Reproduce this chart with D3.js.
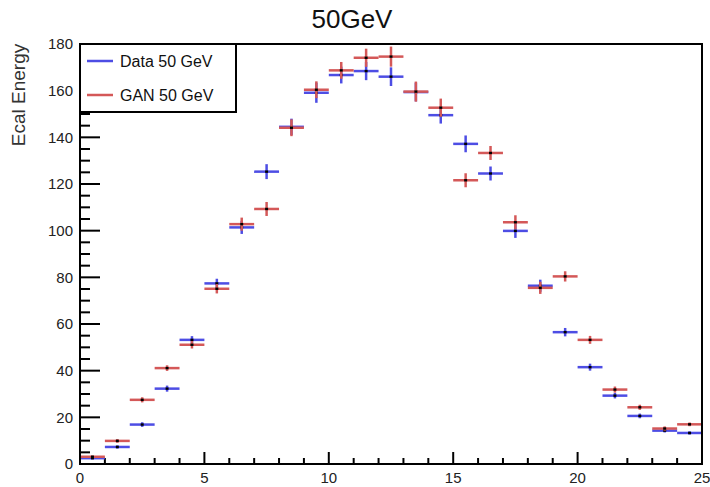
<!DOCTYPE html>
<html>
<head>
<meta charset="utf-8">
<script src="https://cdn.jsdelivr.net/npm/d3@7"></script>
<style>
  html, body { margin: 0; padding: 0; background: #fff; }
  svg { display: block; font-family: "Liberation Sans", Arial, sans-serif; }
</style>
</head>
<body>
<svg id="chart" width="710" height="487"></svg>
<script>
// Bin centres (layer index, bin width 1)
const binCenters = [0.5, 1.5, 2.5, 3.5, 4.5, 5.5, 6.5, 7.5, 8.5, 9.5, 10.5, 11.5, 12.5,
                    13.5, 14.5, 15.5, 16.5, 17.5, 18.5, 19.5, 20.5, 21.5, 22.5, 23.5, 24.5];
const binWidth = 1;

// Mean ECAL energy per bin
const dataValues = [2.5, 7.3, 16.9, 32.3, 53.2, 77.4, 101.4, 125.3, 144.5, 159.1, 166.7, 168.4, 166.0,
                    159.4, 149.5, 137.2, 124.5, 99.9, 76.4, 56.5, 41.5, 29.3, 20.6, 14.3, 13.3];
const dataErrors = [0.5, 0.7, 1.0, 1.3, 1.6, 2.0, 2.8, 3.2, 3.5, 4.3, 3.6, 3.9, 4.0,
                    4.0, 3.6, 3.6, 3.0, 3.0, 2.6, 1.8, 1.5, 1.2, 1.0, 0.8, 0.7];

const ganValues = [3.1, 9.9, 27.5, 41.1, 51.1, 75.1, 102.8, 109.3, 144.1, 160.4, 168.7, 174.1, 174.6,
                   159.6, 152.7, 121.6, 133.3, 103.6, 75.5, 80.4, 53.2, 31.9, 24.3, 15.2, 17.0];
const ganErrors = [0.5, 0.8, 1.1, 1.2, 1.6, 2.0, 2.8, 3.0, 3.6, 3.6, 3.6, 3.9, 4.3,
                   4.3, 3.9, 3.0, 3.0, 3.0, 2.6, 2.2, 1.7, 1.3, 1.1, 0.9, 0.8];

const xMajorTicks = [0, 5, 10, 15, 20, 25];
const yMajorTicks = [0, 20, 40, 60, 80, 100, 120, 140, 160, 180];

const series = [
  { name: "Data 50 GeV", values: dataValues, errors: dataErrors, color: "#4d4de4" },
  { name: "GAN 50 GeV",  values: ganValues,  errors: ganErrors,  color: "#d45858" }
];

const svg = d3.select("#chart");
const frame = { left: 80, right: 702, top: 44, bottom: 464 };

const x = d3.scaleLinear().domain([0, 25]).range([frame.left, frame.right]);
const y = d3.scaleLinear().domain([0, 180]).range([frame.bottom, frame.top]);

// Title
svg.append("text")
  .attr("x", 352).attr("y", 28)
  .attr("text-anchor", "middle")
  .attr("font-size", 26)
  .attr("fill", "#111")
  .text("50GeV");

// Y axis title
svg.append("text")
  .attr("transform", "translate(25,95) rotate(-90)")
  .attr("text-anchor", "middle")
  .attr("font-size", 19)
  .attr("fill", "#333")
  .text("Ecal Energy");

// Minor ticks
const yMinor = d3.range(0, 181, 5).filter(v => v % 20 !== 0);
const xMinor = d3.range(0, 26, 1).filter(v => v % 5 !== 0);

const ticks = svg.append("g").attr("stroke", "#000").attr("stroke-width", 2);
ticks.selectAll(".ymaj").data(yMajorTicks).join("line")
  .attr("x1", frame.left).attr("x2", frame.left + 20)
  .attr("y1", d => y(d)).attr("y2", d => y(d));
ticks.selectAll(".ymin").data(yMinor).join("line")
  .attr("x1", frame.left).attr("x2", frame.left + 10)
  .attr("y1", d => y(d)).attr("y2", d => y(d));
ticks.selectAll(".xmaj").data(xMajorTicks).join("line")
  .attr("x1", d => x(d)).attr("x2", d => x(d))
  .attr("y1", frame.bottom).attr("y2", frame.bottom - 12);
ticks.selectAll(".xmin").data(xMinor).join("line")
  .attr("x1", d => x(d)).attr("x2", d => x(d))
  .attr("y1", frame.bottom).attr("y2", frame.bottom - 6);

// Tick labels
svg.append("g").selectAll("text").data(yMajorTicks).join("text")
  .attr("x", frame.left - 7).attr("y", d => y(d))
  .attr("dy", "0.35em")
  .attr("text-anchor", "end")
  .attr("font-size", 15)
  .attr("fill", "#222")
  .text(d => d);

svg.append("g").selectAll("text").data(xMajorTicks).join("text")
  .attr("x", d => x(d)).attr("y", 483)
  .attr("text-anchor", "middle")
  .attr("font-size", 15)
  .attr("fill", "#222")
  .text(d => d);

// Histogram points with error bars
series.forEach(s => {
  const g = svg.append("g").attr("stroke", s.color).attr("stroke-width", 2.5);
  const pts = binCenters.map((c, i) => ({ c, v: s.values[i], e: s.errors[i] }));
  g.selectAll(".h").data(pts).join("line")
    .attr("x1", d => x(d.c - binWidth / 2)).attr("x2", d => x(d.c + binWidth / 2))
    .attr("y1", d => y(d.v)).attr("y2", d => y(d.v));
  g.selectAll(".v").data(pts).join("line")
    .attr("x1", d => x(d.c)).attr("x2", d => x(d.c))
    .attr("y1", d => y(d.v - d.e)).attr("y2", d => y(d.v + d.e));
  svg.append("g").selectAll("rect").data(pts).join("rect")
    .attr("x", d => x(d.c) - 1.5).attr("y", d => y(d.v) - 1.2)
    .attr("width", 3).attr("height", 2.4)
    .attr("fill", "#000");
});

// Frame
svg.append("rect")
  .attr("x", frame.left).attr("y", frame.top)
  .attr("width", frame.right - frame.left).attr("height", frame.bottom - frame.top)
  .attr("fill", "none").attr("stroke", "#000").attr("stroke-width", 2);

// Legend
const legend = svg.append("g");
legend.append("rect")
  .attr("x", frame.left).attr("y", frame.top)
  .attr("width", 156).attr("height", 68)
  .attr("fill", "#fff").attr("stroke", "#000").attr("stroke-width", 2);
const legendRows = [61, 95];
series.forEach((s, i) => {
  legend.append("line")
    .attr("x1", 87).attr("x2", 113)
    .attr("y1", legendRows[i]).attr("y2", legendRows[i])
    .attr("stroke", s.color).attr("stroke-width", 2.5);
  legend.append("text")
    .attr("x", 120).attr("y", legendRows[i] + 6)
    .attr("font-size", 16)
    .attr("fill", "#111")
    .text(s.name);
});
</script>
</body>
</html>
